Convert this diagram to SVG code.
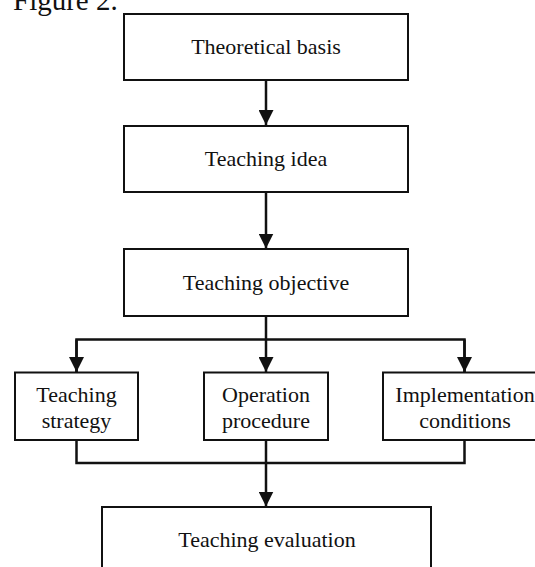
<svg xmlns="http://www.w3.org/2000/svg" width="535" height="567" viewBox="0 0 535 567">
<style>
  .box { fill: #ffffff; stroke: #111111; stroke-width: 2; }
  .lbl { font-family: "Liberation Serif", "Times New Roman", serif; font-size: 22px; fill: #111111; text-anchor: middle; }
  .cap { font-family: "Liberation Serif", "Times New Roman", serif; font-size: 29px; fill: #111111; }
  .conn { fill: none; stroke: #111111; stroke-width: 2.5; }
</style>
<defs>
  <marker id="arr" markerUnits="userSpaceOnUse" markerWidth="15" markerHeight="15" refX="15" refY="7.5" orient="auto">
    <path d="M0,0 L15,7.5 L0,15 z" fill="#111111"/>
  </marker>
</defs>
<rect x="0" y="0" width="535" height="567" fill="#ffffff"/>
<text class="cap" x="13" y="10">Figure 2.</text>

<g id="connectors">
  <line class="conn" x1="266" y1="80" x2="266" y2="125" marker-end="url(#arr)"/>
  <line class="conn" x1="266" y1="192" x2="266" y2="248.5" marker-end="url(#arr)"/>
  <polyline class="conn" points="266,316 266,339.5"/>
  <polyline class="conn" points="76.5,372 76.5,339.5 464.5,339.5 464.5,372"/>
  <line class="conn" x1="76.5" y1="339.5" x2="76.5" y2="372" marker-end="url(#arr)"/>
  <line class="conn" x1="266" y1="339.5" x2="266" y2="372" marker-end="url(#arr)"/>
  <line class="conn" x1="464.5" y1="339.5" x2="464.5" y2="372" marker-end="url(#arr)"/>
  <polyline class="conn" points="76.5,440 76.5,463 464.5,463 464.5,440"/>
  <line class="conn" x1="266" y1="440" x2="266" y2="506.5" marker-end="url(#arr)"/>
</g>

<g id="theoretical-basis">
  <rect class="box" x="124" y="14" width="284" height="66"/>
  <text class="lbl" x="266" y="54">Theoretical basis</text>
</g>
<g id="teaching-idea">
  <rect class="box" x="124" y="126" width="284" height="66"/>
  <text class="lbl" x="266" y="166">Teaching idea</text>
</g>
<g id="teaching-objective">
  <rect class="box" x="124" y="249" width="284" height="67"/>
  <text class="lbl" x="266" y="290">Teaching objective</text>
</g>
<g id="teaching-strategy">
  <rect class="box" x="15" y="372.5" width="123" height="67.5"/>
  <text class="lbl" x="76.5" y="402">Teaching</text>
  <text class="lbl" x="76.5" y="428">strategy</text>
</g>
<g id="operation-procedure">
  <rect class="box" x="204" y="372.5" width="124" height="67.5"/>
  <text class="lbl" x="266" y="402">Operation</text>
  <text class="lbl" x="266" y="428">procedure</text>
</g>
<g id="implementation-conditions">
  <rect class="box" x="383" y="372.5" width="163" height="67.5"/>
  <text class="lbl" x="465" y="402">Implementation</text>
  <text class="lbl" x="465" y="428">conditions</text>
</g>
<g id="teaching-evaluation">
  <rect class="box" x="102" y="507" width="329" height="90"/>
  <text class="lbl" x="267" y="547">Teaching evaluation</text>
</g>
</svg>
